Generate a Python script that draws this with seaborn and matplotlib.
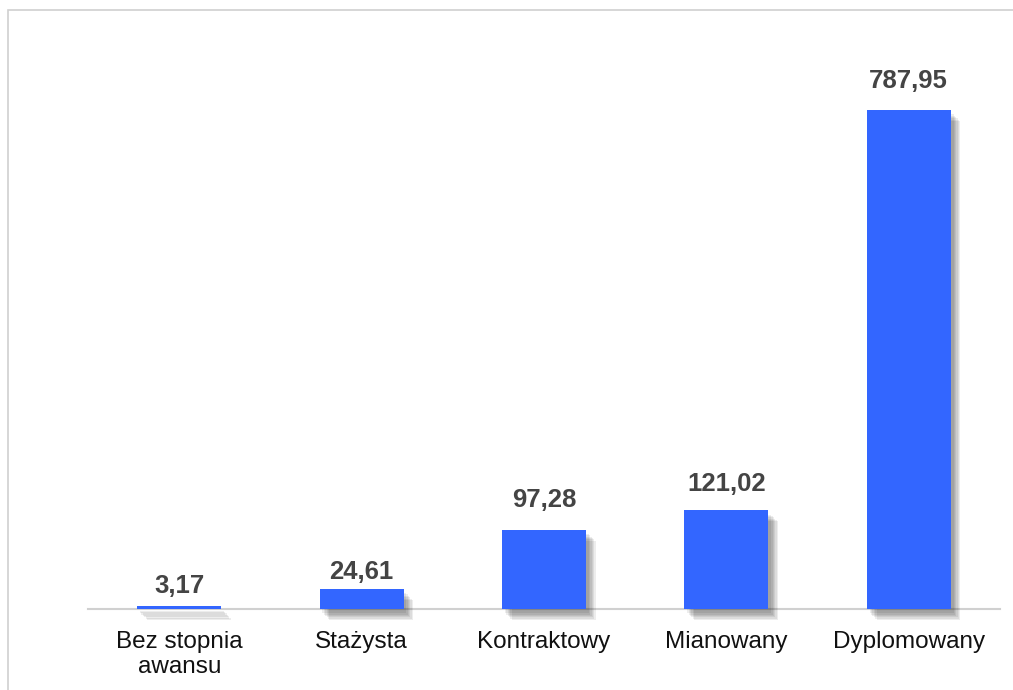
import matplotlib
matplotlib.use("Agg")
import matplotlib.pyplot as plt
import matplotlib.patheffects as pe
from matplotlib.patches import Rectangle
import seaborn as sns
import pandas as pd
import numpy as np

categories = ["Bez stopnia\nawansu", "Stażysta", "Kontraktowy", "Mianowany", "Dyplomowany"]
values = [3.17, 24.61, 97.28, 121.02, 787.95]
labels = ["3,17", "24,61", "97,28", "121,02", "787,95"]

# label gap above bar top (pixels), as laid out in the original
label_gap_px = [13, 10, 23, 19, 22]

sns.set_theme(style="white")
plt.rcParams["font.family"] = ["Liberation Sans", "DejaVu Sans"]

W, H = 1013, 690
fig = plt.figure(figsize=(W / 100, H / 100), dpi=100)
fig.patch.set_facecolor("white")

# outer frame (left + top visible)
fig.add_artist(Rectangle((8 / W, -0.05), 1.2, (H - 10) / H + 0.05, transform=fig.transFigure,
                         fill=False, edgecolor="#d0d0d0", linewidth=1.2))

# piecewise-linear (compressed upper range) value axis, as in the original chart
K, R = 125.0, 0.735


def fwd(v):
    v = np.asarray(v, dtype=float)
    return np.where(v <= K, v, K + (v - K) * R)


def inv(u):
    u = np.asarray(u, dtype=float)
    return np.where(u <= K, u, K + (u - K) / R)


px_per_unit = 0.815
base_px = 609
ymax = 880
top_px = base_px - float(fwd(ymax)) * px_per_unit
ax = fig.add_axes([88 / W, 1 - base_px / H, (1000 - 88) / W, (base_px - top_px) / H])
ax.set_yscale("function", functions=(fwd, inv))

df = pd.DataFrame({"cat": categories, "val": values})
sns.barplot(data=df, x="cat", y="val", color="#3366ff", saturation=1, width=0.46, ax=ax)

shadow = [pe.SimplePatchShadow(offset=(d, -d - 1), shadow_rgbFace="#000000", alpha=0.07)
          for d in (7, 6, 5, 4, 3, 2)]
for p in ax.patches:
    p.set_path_effects(shadow + [pe.Normal()])
    p.set_edgecolor("none")
    p.set_clip_on(False)

for i, (v, lab, g) in enumerate(zip(values, labels, label_gap_px)):
    ax.annotate(lab, (i, v), xytext=(0, g * 0.72), textcoords="offset points", ha="center",
                va="baseline", fontsize=18.5, fontweight="bold", color="#444444")

ax.set_xlim(-0.5, 4.5)
ax.set_ylim(0, ymax)
ax.set_xlabel("")
ax.set_ylabel("")
ax.set_yticks([])
ax.yaxis.set_minor_locator(matplotlib.ticker.NullLocator())
for s in ["top", "right", "left"]:
    ax.spines[s].set_visible(False)
ax.spines["bottom"].set_color("#d0d0d0")
ax.spines["bottom"].set_linewidth(1.5)
ax.spines["bottom"].set_zorder(0.5)
ax.tick_params(axis="x", length=0, pad=15.5, labelsize=17.5, colors="#111111")
for t in ax.get_xticklabels():
    t.set_linespacing(1.22)
ax.set_facecolor("none")

fig.savefig("out.png", dpi=100)
